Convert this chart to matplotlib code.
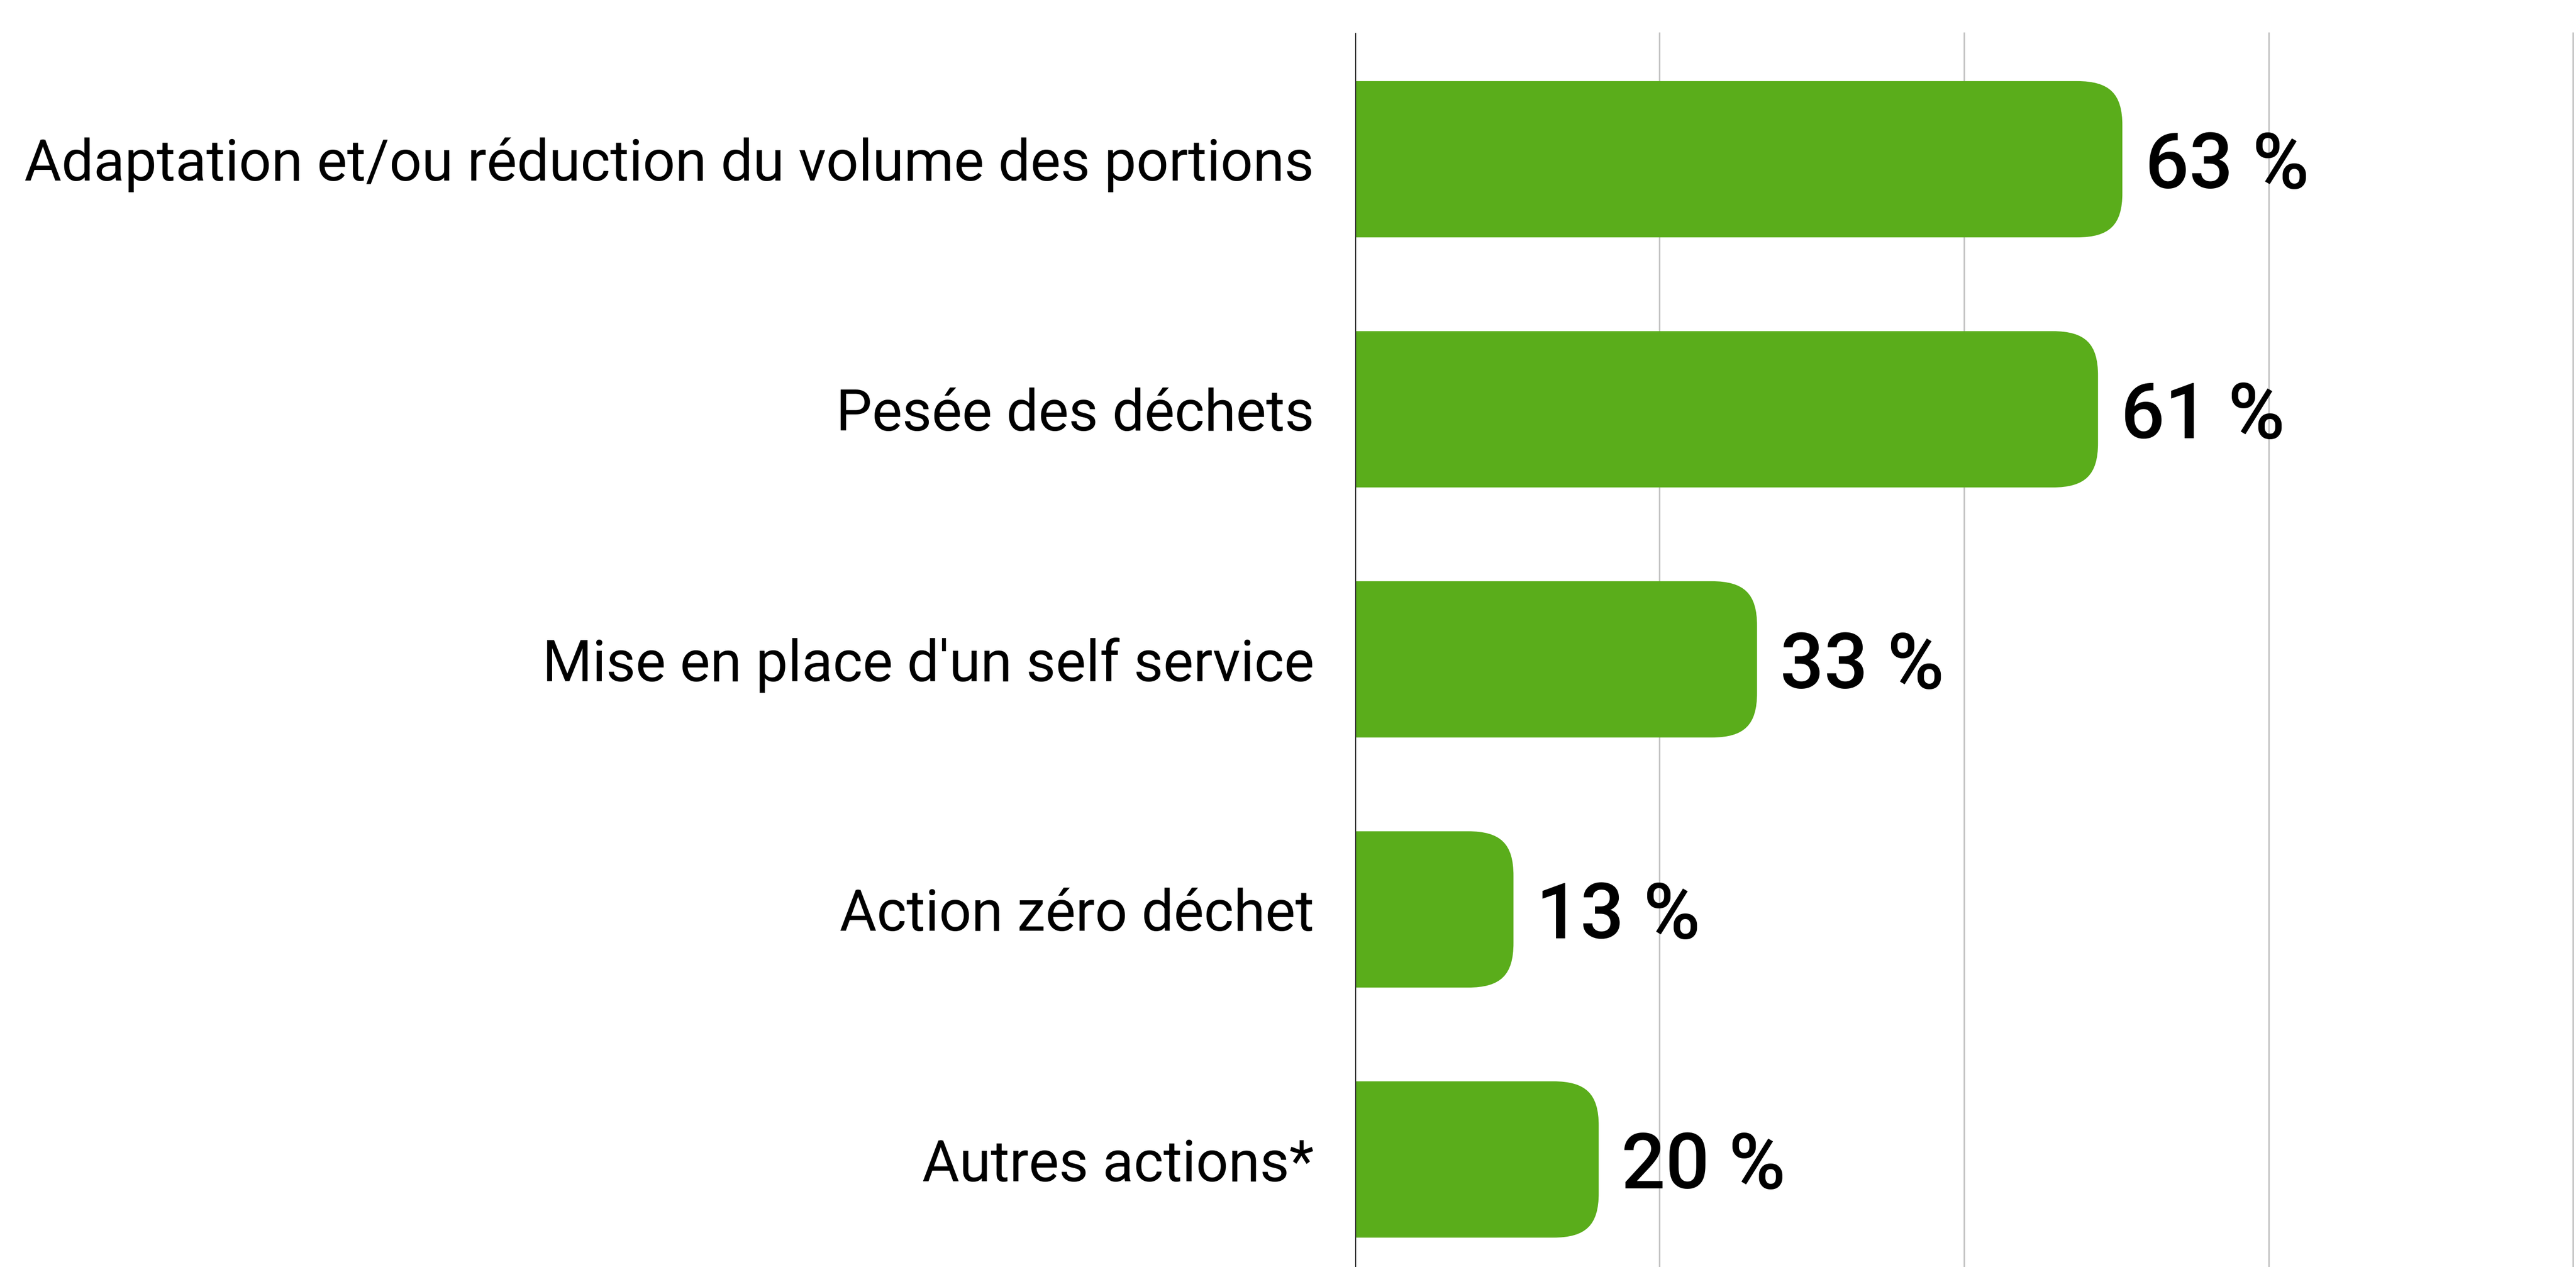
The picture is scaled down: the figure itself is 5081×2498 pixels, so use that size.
import matplotlib
matplotlib.use("Agg")
import matplotlib.pyplot as plt
from matplotlib.path import Path
from matplotlib.patches import PathPatch

categories = [
    "Adaptation et/ou réduction du volume des portions",
    "Pesée des déchets",
    "Mise en place d'un self service",
    "Action zéro déchet",
    "Autres actions*",
]
values = [63, 61, 33, 13, 20]
value_labels = ["63 %", "61 %", "33 %", "13 %", "20 %"]
grid_ticks = [25, 50, 75, 100]

W, H = 5081, 2498
DPI = 100
fig = plt.figure(figsize=(W / DPI, H / DPI), dpi=DPI)
fig.patch.set_facecolor("white")

ax_left, ax_right = 2673, 5075
ax_top, ax_bottom = 65, 2498
ax = fig.add_axes([ax_left / W, 1 - ax_bottom / H, (ax_right - ax_left) / W, (ax_bottom - ax_top) / H])
ax.set_xlim(0, 100)
ax.set_ylim(4.43, -0.505)
ax.axis("off")

GREEN = "#5aad1b"
bar_h = 0.625
px_per_x = (ax_right - ax_left) / 100.0
px_per_y = (ax_bottom - ax_top) / (4.43 + 0.505)
rx = 90 / px_per_x
ry = 88 / px_per_y
h = 0.72  # bezier handle fraction (squircle-like)

for x in grid_ticks:
    ax.axvline(x, color="#c4c4c4", lw=2.2, zorder=0, clip_on=False)
ax.axvline(0, color="#222222", lw=2.8, zorder=3)

for i, v in enumerate(values):
    y0, y1 = i - bar_h / 2, i + bar_h / 2
    verts = [
        (0, y0),
        (v - rx, y0),
        (v - rx * (1 - h), y0), (v, y0 + ry * (1 - h)), (v, y0 + ry),
        (v, y1 - ry),
        (v, y1 - ry * (1 - h)), (v - rx * (1 - h), y1), (v - rx, y1),
        (0, y1),
        (0, y0),
    ]
    codes = [Path.MOVETO, Path.LINETO, Path.CURVE4, Path.CURVE4, Path.CURVE4,
             Path.LINETO, Path.CURVE4, Path.CURVE4, Path.CURVE4, Path.LINETO, Path.CLOSEPOLY]
    ax.add_patch(PathPatch(Path(verts, codes), facecolor=GREEN, edgecolor="none", zorder=2))
    ax.text(v + 45 / px_per_x, i, value_labels[i], ha="left", va="center_baseline",
            fontsize=110, fontweight="medium", family=["Roboto", "DejaVu Sans"], color="black")
    ax.text(-81 / px_per_x, i, categories[i], ha="right", va="center_baseline",
            fontsize=81, family=["Roboto", "DejaVu Sans"], color="black", clip_on=False)

fig.savefig("out.png", dpi=DPI, facecolor="white")
